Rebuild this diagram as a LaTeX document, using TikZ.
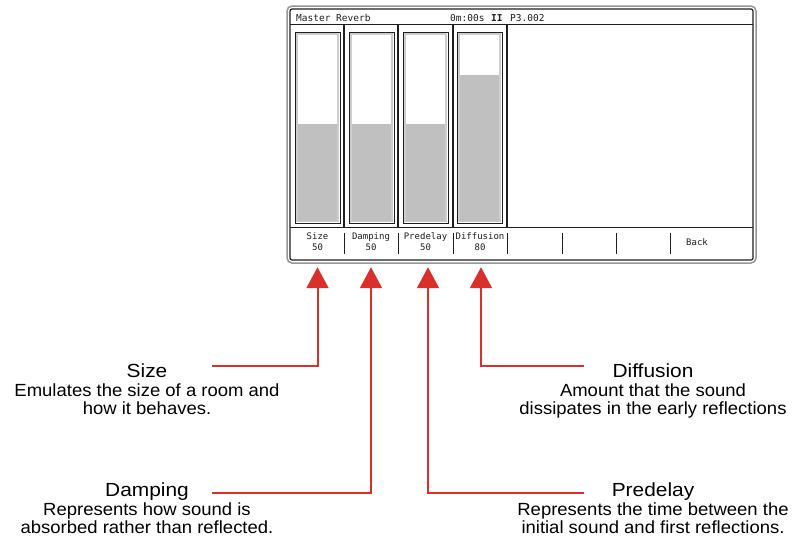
\documentclass[tikz,border=0pt]{standalone}
\usepackage{fontspec}
\usetikzlibrary{arrows.meta}
\newfontfamily\labfont[FakeStretch=1.05]{Liberation Sans}
\newfontfamily\ttlfont[FakeStretch=1.1]{Liberation Sans}
\newfontfamily\monofont{DejaVu Sans Mono}
\definecolor{arrowred}{RGB}{217,48,44}
\definecolor{scr}{RGB}{30,30,30}
\definecolor{barfill}{RGB}{192,192,192}
\definecolor{framegray}{RGB}{150,150,150}
\definecolor{innergray}{RGB}{205,205,205}
\tikzset{
  titletext/.style={anchor=base, inner sep=0pt, font=\ttlfont\fontsize{19}{22}\selectfont},
  desctext/.style={anchor=base, inner sep=0pt, font=\labfont\fontsize{17.6}{20}\selectfont},
  scrtext/.style={anchor=base west, inner sep=0pt, text=scr, font=\monofont\fontsize{9.5}{11}\selectfont},
  btncell/.style={minimum width=53pt, minimum height=31pt, inner sep=0pt, align=center, text=scr, font=\monofont\fontsize{9}{11}\selectfont},
  conn/.style={draw=arrowred, line width=2pt, -{Triangle[width=22pt,length=21pt]}, shorten >=9.5pt},
  sliderout/.style={draw=scr, line width=1pt},
  sliderin/.style={draw=innergray, line width=1.5pt},
}
\begin{document}
\begin{tikzpicture}[x=1pt,y=-1pt]
\useasboundingbox (0,0) rectangle (798,542);
% screen frame
\draw[framegray, line width=1.5pt, rounded corners=5pt] (287,6) rectangle (756,263);
\draw[scr, line width=1.2pt, rounded corners=2pt] (290,9) rectangle (753,260);
\draw[scr, line width=1pt] (290,24) -- (753,24);
\draw[scr, line width=1pt] (290,227) -- (753,227);
\foreach \x in {344,398,453,507} \draw[scr, line width=1.2pt] (\x,24) -- (\x,227);
\foreach \x in {344,398,453,507,562,616,670} \draw[scr, line width=1pt] (\x,233) -- (\x,254);
% title bar
\node[scrtext] (title) at (296,21) {Master Reverb};
\node[scrtext] (time) at (450,21) {0m:00s};
\node[scrtext] (pause) at (491,21) {\textbf{II}};
\node[scrtext] (preset) at (510,21) {P3.002};
% sliders
\foreach \l/\t in {295/124, 349/124, 403/124, 457/75} {
  \fill[barfill] (\l+2.5,\t) rectangle (\l+42.5,221);
  \draw[sliderin] (\l+2,34) rectangle (\l+43,221.5);
  \draw[sliderout] (\l,32) rectangle (\l+45,223);
}
% buttons
\node[btncell] (bsize) at (317.5,242) {Size\\50};
\node[btncell] (bdamp) at (371,242) {Damping\\50};
\node[btncell] (bpre) at (425.5,242) {Predelay\\50};
\node[btncell] (bdif) at (480,242) {Diffusion\\80};
\node[btncell] (bback) at (697,242) {Back};
% labels
\node[titletext] (tsize) at (147,377) {Size};
\node[desctext] (dsize1) at (147,396) {Emulates the size of a room and};
\node[desctext] (dsize2) at (147,414) {how it behaves.};
\node[titletext] (tdamp) at (147,496) {Damping};
\node[desctext] (ddamp1) at (147,515) {Represents how sound is};
\node[desctext] (ddamp2) at (147,533) {absorbed rather than reflected.};
\node[titletext] (tdif) at (653,377) {Diffusion};
\node[desctext] (ddif1) at (653,396) {Amount that the sound};
\node[desctext] (ddif2) at (653,414) {dissipates in the early reflections};
\node[titletext] (tpre) at (653,496) {Predelay};
\node[desctext] (dpre1) at (653,515) {Represents the time between the};
\node[desctext] (dpre2) at (653,533) {initial sound and first reflections.};
% connectors
\coordinate (sizeL) at (212,366);
\coordinate (dampL) at (212,493);
\coordinate (preR) at (584,493);
\coordinate (difR) at (584,366);
\draw[conn] (sizeL) -| (bsize.south);
\draw[conn] (dampL) -| (bdamp.south);
\draw[conn] (preR) -| ([xshift=2.5pt]bpre.south);
\draw[conn] (difR) -| ([xshift=1pt]bdif.south);
\end{tikzpicture}
\end{document}
